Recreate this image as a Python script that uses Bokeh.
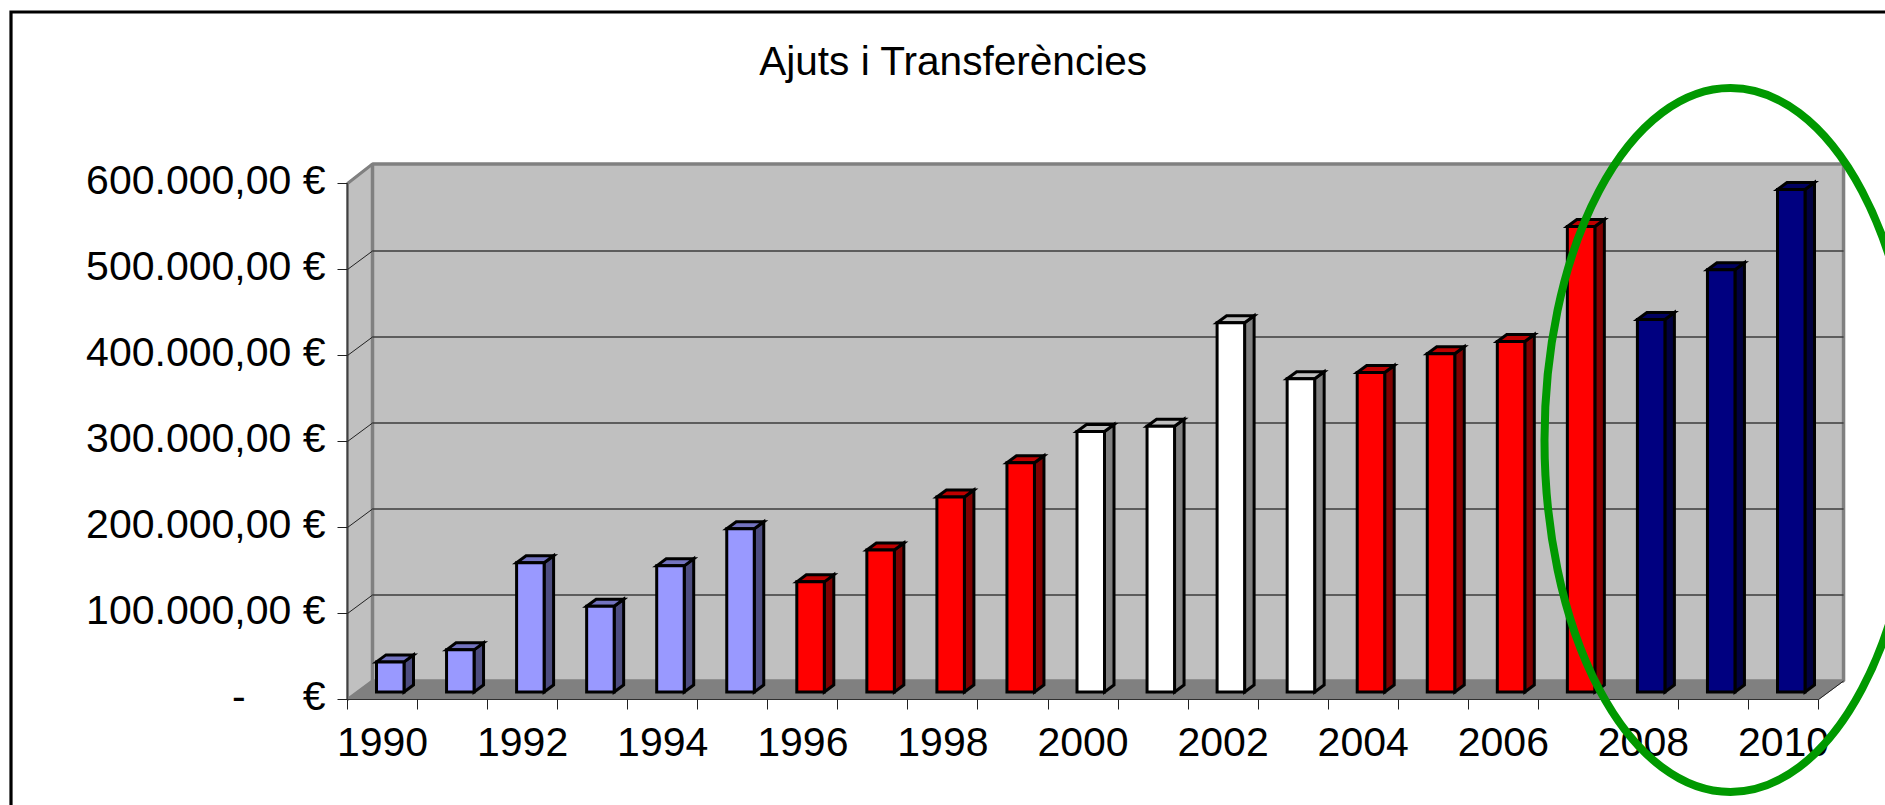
from bokeh.embed import file_html
from bokeh.resources import INLINE
from bokeh.plotting import figure
from bokeh.models import Range1d, LinearAxis, FixedTicker, Label

title_text = "Ajuts i Transferències"
years = list(range(1990, 2011))
values = [35000, 49000, 150200, 99800, 146700, 189800, 128100, 165200, 226700, 266500, 302900,
          309000, 429300, 364200, 371500, 393300, 407600, 541300, 433100, 490900, 584300]
front_colors = ["#9999FF"] * 6 + ["#FF0000"] * 4 + ["#FFFFFF"] * 4 + ["#FF0000"] * 4 + ["#000080"] * 3
top_colors = ["#7373BF"] * 6 + ["#BF0000"] * 4 + ["#BFBFBF"] * 4 + ["#BF0000"] * 4 + ["#000060"] * 3
side_colors = ["#4D4D80"] * 6 + ["#800000"] * 4 + ["#808080"] * 4 + ["#800000"] * 4 + ["#000040"] * 3
y_ticks = [0, 100000, 200000, 300000, 400000, 500000, 600000]
y_labels = ["-\u00a0\u00a0\u00a0\u00a0\u00a0€", "100.000,00 €", "200.000,00 €", "300.000,00 €",
            "400.000,00 €", "500.000,00 €", "600.000,00 €"]

# layout (page pixels); the plotting frame fills the whole figure
FIG_W, FIG_H = 1885, 805
AX_L, AX_B = 347, 699            # front-left corner of the floor
CAT_PX = 70.05                   # one category
VAL_PX = 0.00086                 # one euro
LABEL_LIFT = 3500                # y labels sit about 3 px above their ticks

def X(px):
    return (px - AX_L) / CAT_PX

def Y(py):
    return (AX_B - py) / VAL_PX

DX, DY = X(AX_L + 25), Y(AX_B - 18.5)      # depth of the box
n = len(years)
vmax = y_ticks[-1]
TOP = Y(163.5)

p = figure(width=FIG_W, height=FIG_H, output_backend="svg", toolbar_location=None, tools="",
           x_range=Range1d(X(0), X(FIG_W)), y_range=Range1d(Y(FIG_H), Y(0)),
           x_axis_type=None, y_axis_type=None,
           min_border=0, border_fill_color="white", background_fill_color="white")
p.outline_line_color = None

# outer chart border (only its left and top edges fall inside the picture)
p.line([X(10.5), X(10.5), X(FIG_W + 5)], [Y(FIG_H + 5), Y(11.5), Y(11.5)],
       line_color="black", line_width=3.2, line_join="miter")

# walls and floor
p.patch([0, 0, DX, DX], [0, vmax, TOP, DY], fill_color="#C0C0C0", line_color="#808080", line_width=3)
p.patch([DX, DX, n + DX, n + DX], [DY, TOP, TOP, DY], fill_color="#C0C0C0", line_color="#808080", line_width=3.5)
p.patch([0, DX, n + DX, n], [0, DY, DY, 0], fill_color="#808080", line_color="#808080", line_width=1)

# grid on the back wall, with the connectors on the left wall
grid = y_ticks[1:-1]
p.segment([DX] * len(grid), [v + DY for v in grid], [n + DX] * len(grid), [v + DY for v in grid],
          line_color="#3C3C3C", line_width=1.4)
p.segment([0] * len(grid), grid, [DX] * len(grid), [v + DY for v in grid],
          line_color="#222222", line_width=1)
p.segment([n], [0], [n + DX], [DY], line_color="#222222", line_width=1)
p.segment([0], [0], [0], [vmax], line_color="#404040", line_width=1.2)

# bars
BAR_X = X(AX_L + 29)
BAR_W = X(AX_L + 27.5)
BAR_DX = X(AX_L + 9.5)
BAR_DY = Y(AX_B - 7)
BASE = Y(AX_B - 7.5)
xl = [i + BAR_X for i in range(n)]
xr = [x + BAR_W for x in xl]
yt = [BASE + v for v in values]

for xs, ys, colors in [
    ([[r, r + BAR_DX, r + BAR_DX, r] for r in xr],
     [[BASE, BASE + BAR_DY, t + BAR_DY, t] for t in yt], side_colors),
    ([[l, l + BAR_DX, r + BAR_DX, r] for l, r in zip(xl, xr)],
     [[t, t + BAR_DY, t + BAR_DY, t] for t in yt], top_colors),
    ([[l, l, r, r] for l, r in zip(xl, xr)],
     [[BASE, t, t, BASE] for t in yt], front_colors),
]:
    p.patches(xs, ys, fill_color=colors, line_color="black", line_width=3, line_join="miter")

# axes, pinned at the corner of the floor
y_axis = LinearAxis(ticker=FixedTicker(ticks=[t + LABEL_LIFT for t in y_ticks], minor_ticks=y_ticks),
                    bounds=(0, vmax + LABEL_LIFT), fixed_location=0,
                    major_label_overrides={t + LABEL_LIFT: s for t, s in zip(y_ticks, y_labels)},
                    major_label_standoff=12, major_tick_in=0, major_tick_out=0,
                    minor_tick_in=0, minor_tick_out=10,
                    axis_line_color=None,
                    minor_tick_line_color="#202020", minor_tick_line_width=1,
                    major_label_text_font="Liberation Sans", major_label_text_font_size="41px",
                    major_label_text_color="black")
p.add_layout(y_axis, "left")

label_pos = [i + 0.5 for i in range(0, n, 2)]
x_axis = LinearAxis(ticker=FixedTicker(ticks=label_pos, minor_ticks=list(range(n + 1))), bounds=(0, n),
                    fixed_location=0,
                    major_label_overrides={i + 0.5: str(years[i]) for i in range(0, n, 2)},
                    major_label_standoff=18, major_tick_in=0, major_tick_out=0,
                    minor_tick_in=0, minor_tick_out=10,
                    minor_tick_line_color="#202020", minor_tick_line_width=1,
                    axis_line_color="#303030", axis_line_width=1.2,
                    major_label_text_font="Liberation Sans", major_label_text_font_size="41px",
                    major_label_text_color="black")
p.add_layout(x_axis, "below")

p.add_layout(Label(x=X(953), y=Y(60), text=title_text, text_align="center", text_baseline="middle",
                   text_font="Liberation Sans", text_font_size="40.6px", text_color="black"))

# green hand-drawn ellipse over the last years
p.ellipse([X(1730)], [Y(439.5)], width=[X(1730 + 372) - X(1730)], height=[Y(439.5 - 704) - Y(439.5)],
          fill_color=None, line_color="#009900", line_width=8, level="overlay")

open("out.html", "w").write(file_html(p, INLINE))
